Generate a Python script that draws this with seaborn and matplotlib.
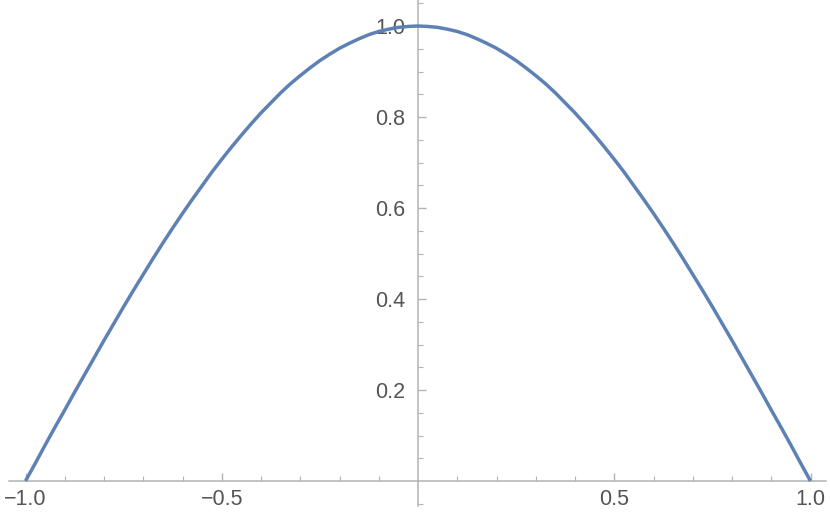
import numpy as np
import pandas as pd
import matplotlib
matplotlib.use("Agg")
import matplotlib.pyplot as plt
import seaborn as sns

# Values (x step 0.025)
x_vals = [-1.000, -0.975, -0.950, -0.925, -0.900, -0.875, -0.850, -0.825, -0.800, -0.775,
          -0.750, -0.725, -0.700, -0.675, -0.650, -0.625, -0.600, -0.575, -0.550, -0.525,
          -0.500, -0.475, -0.450, -0.425, -0.400, -0.375, -0.350, -0.325, -0.300, -0.275,
          -0.250, -0.225, -0.200, -0.175, -0.150, -0.125, -0.100, -0.075, -0.050, -0.025,
          0.000,
          0.025, 0.050, 0.075, 0.100, 0.125, 0.150, 0.175, 0.200, 0.225, 0.250,
          0.275, 0.300, 0.325, 0.350, 0.375, 0.400, 0.425, 0.450, 0.475, 0.500,
          0.525, 0.550, 0.575, 0.600, 0.625, 0.650, 0.675, 0.700, 0.725, 0.750,
          0.775, 0.800, 0.825, 0.850, 0.875, 0.900, 0.925, 0.950, 0.975, 1.000]
y_vals = [0.000, 0.039, 0.079, 0.118, 0.156, 0.195, 0.233, 0.271, 0.309, 0.346,
          0.383, 0.419, 0.454, 0.489, 0.523, 0.556, 0.588, 0.619, 0.649, 0.679,
          0.707, 0.734, 0.760, 0.785, 0.809, 0.831, 0.853, 0.873, 0.891, 0.908,
          0.924, 0.938, 0.951, 0.962, 0.972, 0.981, 0.988, 0.993, 0.997, 0.999,
          1.000,
          0.999, 0.997, 0.993, 0.988, 0.981, 0.972, 0.962, 0.951, 0.938, 0.924,
          0.908, 0.891, 0.873, 0.853, 0.831, 0.809, 0.785, 0.760, 0.734, 0.707,
          0.679, 0.649, 0.619, 0.588, 0.556, 0.523, 0.489, 0.454, 0.419, 0.383,
          0.346, 0.309, 0.271, 0.233, 0.195, 0.156, 0.118, 0.079, 0.039, 0.000]
x_ticks = [-1.0, -0.5, 0.5, 1.0]
x_tick_labels = ["\u22121.0", "\u22120.5", "0.5", "1.0"]
y_ticks = [0.2, 0.4, 0.6, 0.8, 1.0]
y_tick_labels = ["0.2", "0.4", "0.6", "0.8", "1.0"]

sns.set_style("white")
plt.rcParams['font.family'] = ['Liberation Sans', 'DejaVu Sans']

df = pd.DataFrame({"x": x_vals, "y": y_vals})

fig = plt.figure(figsize=(8.3, 5.21), dpi=100)
ax = fig.add_axes([0, 0, 1, 1])
ax.patch.set_alpha(0)

sns.lineplot(data=df, x="x", y="y", ax=ax, color="#5E81B5", linewidth=2.5,
             solid_capstyle="butt", solid_joinstyle="round", zorder=5)

# pixel mapping: origin at (418, 481), 392.5 px per x unit, 455 px per y unit
x0, sx = 418.0, 392.5
y0, sy = 481.0, 455.0
ax.set_xlim(-x0 / sx, (830 - x0) / sx)
ax.set_ylim(-(521 - y0) / sy, y0 / sy)

axis_col = "#b3b3b3"
for s in ["top", "right"]:
    ax.spines[s].set_visible(False)
ax.spines["left"].set_position(("data", 0))
ax.spines["bottom"].set_position(("data", 0))
for s in ["left", "bottom"]:
    ax.spines[s].set_visible(True)
    ax.spines[s].set_color(axis_col)
    ax.spines[s].set_linewidth(1.1)
ax.spines["bottom"].set_bounds((9 - x0) / sx, (826 - x0) / sx)
ax.spines["left"].set_bounds(-0.055, 1.06)

ax.set_xticks(x_ticks)
ax.set_xticklabels(x_tick_labels)
ax.set_yticks(y_ticks)
ax.set_yticklabels(y_tick_labels)
ax.set_xticks([v / 10 for v in range(-10, 11) if v % 5 != 0], minor=True)
ax.set_yticks([v / 20 for v in range(-1, 22) if v % 4 != 0 and v != 0], minor=True)

ax.tick_params(axis="both", which="both", direction="in", colors=axis_col,
               labelcolor="#555555", labelsize=15.5)
ax.tick_params(axis="both", which="major", length=6, width=1.0)
ax.tick_params(axis="both", which="minor", length=3.5, width=0.8)
ax.tick_params(axis="x", which="both", bottom=True, pad=6)
ax.tick_params(axis="y", which="both", left=True, pad=9)

ax.set_xlabel("")
ax.set_ylabel("")
ax.grid(False)

fig.savefig("out.png", dpi=100)
